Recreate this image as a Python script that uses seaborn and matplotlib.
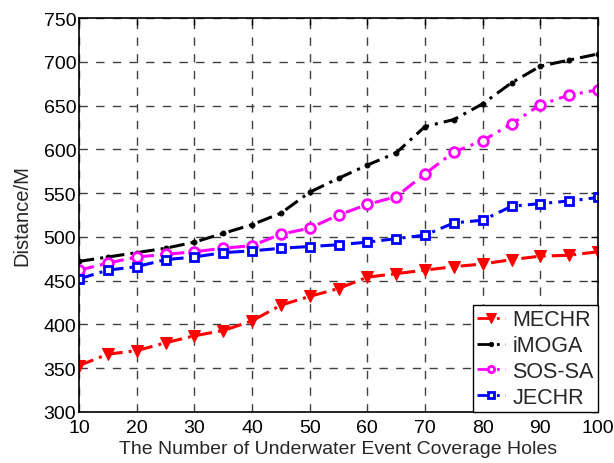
import matplotlib
matplotlib.use("Agg")
import matplotlib.pyplot as plt
import seaborn as sns
import pandas as pd

holes = [10, 15, 20, 25, 30, 35, 40, 45, 50, 55, 60, 65, 70, 75, 80, 85, 90, 95, 100]
mechr = [353, 366, 370, 379, 387, 393, 404, 422, 432, 441, 454, 458, 462, 466, 469, 474, 478, 479, 483]
imoga = [472, 477, 482, 487, 494, 504, 514, 527, 551, 567, 582, 596, 626, 634, 652, 676, 695, 702, 709]
sossa = [462, 470, 477, 480, 483, 487, 490, 503, 510, 525, 537, 546, 572, 597, 610, 629, 651, 662, 668]
jechr = [452, 462, 466, 474, 477, 482, 484, 487, 489, 491, 494, 498, 502, 516, 519, 535, 538, 541, 545]

series = ["MECHR", "iMOGA", "SOS-SA", "JECHR"]
values = [mechr, imoga, sossa, jechr]

sns.set_style("white")
plt.rcParams["font.family"] = ["Liberation Sans", "DejaVu Sans"]

fig = plt.figure(figsize=(6.14, 4.64), dpi=100)
ax = fig.add_axes([0.1287, 0.110, 0.8453, 0.849])

styles = {
    "MECHR": dict(color="#ff0000", marker="v", markersize=9, markerfacecolor="#ff0000", markeredgecolor="#ff0000"),
    "iMOGA": dict(color="#000000", marker="o", markersize=3.5, markerfacecolor="#000000", markeredgecolor="#000000"),
    "SOS-SA": dict(color="#ff00ff", marker="o", markersize=7, markerfacecolor="white", markeredgecolor="#ff00ff", markeredgewidth=2),
    "JECHR": dict(color="#0000ff", marker="s", markersize=6, markerfacecolor="white", markeredgecolor="#0000ff", markeredgewidth=2),
}
legend_marker_size = {"MECHR": 6.5, "iMOGA": 3, "SOS-SA": 4.5, "JECHR": 4.5}

for name, vals in zip(series, values):
    df = pd.DataFrame({"holes": holes, "distance": vals})
    sns.lineplot(data=df, x="holes", y="distance", ax=ax, label=name,
                 linestyle=(0, (5, 2, 1, 2)), linewidth=2.2, **styles[name])

ax.set_xlim(10, 100)
ax.set_ylim(300, 750)
ax.set_xticks(range(10, 101, 10))
ax.set_yticks(range(300, 751, 50))
ax.grid(True, color="#404040", linestyle=(0, (6, 6)), linewidth=1.0)
ax.tick_params(direction="in", length=5, width=1, labelsize=14, top=True, right=True, colors="black")
ax.tick_params(axis="x", pad=5)
ax.tick_params(axis="y", pad=2)
for sp in ax.spines.values():
    sp.set_color("black")
    sp.set_linewidth(1.2)

ax.set_xlabel("The Number of Underwater Event Coverage Holes", fontsize=14, labelpad=3)
ax.set_ylabel("Distance/M", fontsize=14.5, labelpad=9)

leg = ax.legend(loc="lower right", fontsize=15.5, frameon=True, fancybox=False,
                edgecolor="black", borderpad=0.2, labelspacing=0.22, handlelength=1.3,
                handletextpad=0.35, borderaxespad=0.0)
for line, name in zip(leg.get_lines(), series):
    line.set_markersize(legend_marker_size[name])
    line.set_linewidth(2.0)
leg.get_frame().set_linewidth(1.0)
leg.get_frame().set_alpha(1)

fig.savefig("out.png", dpi=100)
